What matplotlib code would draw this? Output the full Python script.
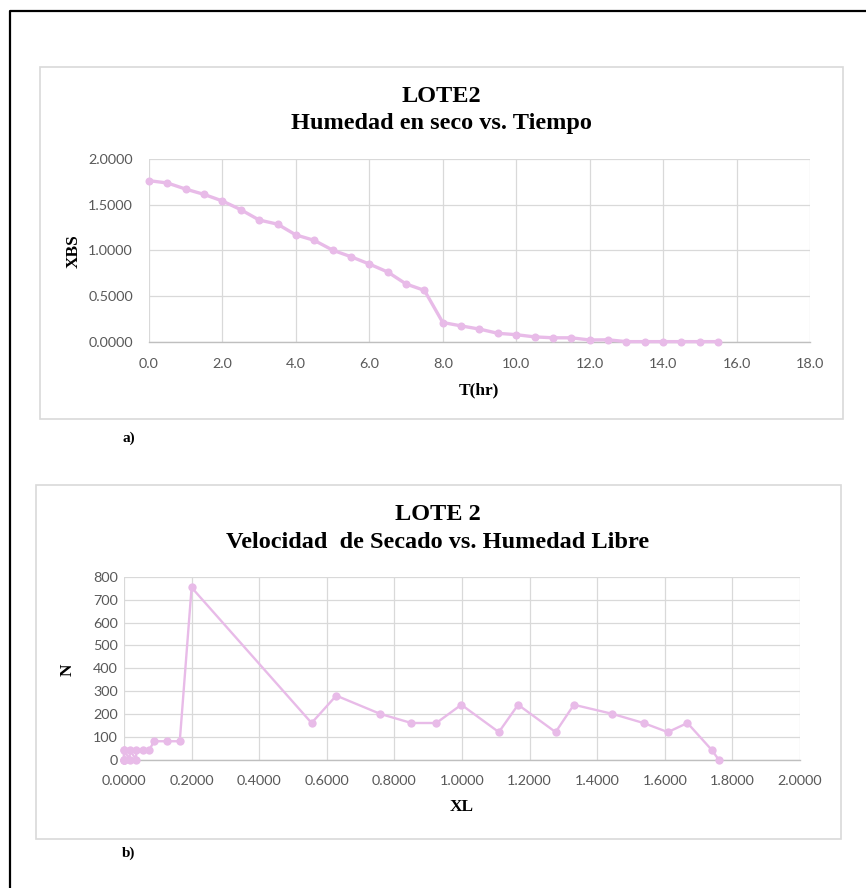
import matplotlib
matplotlib.use("Agg")
import matplotlib.pyplot as plt
from matplotlib.patches import Rectangle
from matplotlib.lines import Line2D
from matplotlib.ticker import FormatStrFormatter, MultipleLocator

# --- data -------------------------------------------------------------
# Drying curve: time (hr) and dry-basis moisture
t_hr = [0.0, 0.5, 1.0, 1.5, 2.0, 2.5, 3.0, 3.5, 4.0, 4.5, 5.0, 5.5, 6.0, 6.5,
        7.0, 7.5, 8.0, 8.5, 9.0, 9.5, 10.0, 10.5, 11.0, 11.5, 12.0, 12.5,
        13.0, 13.5, 14.0, 14.5, 15.0, 15.5]
xbs = [1.763, 1.738, 1.671, 1.613, 1.541, 1.446, 1.333, 1.288, 1.170, 1.111,
       1.004, 0.932, 0.852, 0.765, 0.634, 0.564, 0.213, 0.176, 0.141, 0.095,
       0.080, 0.056, 0.046, 0.046, 0.022, 0.024, 0.004, 0.004, 0.004, 0.004,
       0.004, 0.004]

# Drying rate vs free moisture
xl = [1.759, 1.740, 1.667, 1.609, 1.537, 1.445, 1.331, 1.277, 1.166, 1.109,
      0.998, 0.924, 0.850, 0.758, 0.628, 0.555, 0.200, 0.165, 0.127, 0.089,
      0.074, 0.055, 0.036, 0.036, 0.017, 0.017, 0.000, 0.000, 0.000, 0.000,
      0.000, 0.000]
n_rate = [0, 40, 160, 120, 160, 200, 240, 120, 240, 120, 240, 160, 160, 200,
          280, 160, 754, 80, 80, 80, 40, 40, 40, 0, 40, 0, 40, 0, 0, 0, 0, 40]

# --- figure -----------------------------------------------------------
W, H = 866, 888
fig = plt.figure(figsize=(W / 100, H / 100), dpi=100)
fig.patch.set_facecolor("white")

SERIF = "Liberation Serif"
TICKFONT = "Lato"
LINE_COLOR = "#E8BBE8"
GRID_COLOR = "#D9D9D9"
TICK_COLOR = "#595959"


def fx(x):
    return x / W


def fy(y):
    return 1 - y / H


def rect(l, t, r, b):
    return [l / W, 1 - b / H, (r - l) / W, (b - t) / H]


# page frame
fig.add_artist(Line2D([fx(10), fx(10), fx(866)], [fy(888), fy(11), fy(11)],
                      transform=fig.transFigure, color="black", lw=1.6,
                      zorder=-2))

# chart boxes
for (l, t, r, b) in [(40, 67, 843, 419), (36, 485, 841, 839)]:
    fig.add_artist(Rectangle((fx(l), fy(b)), (r - l) / W, (b - t) / H,
                             transform=fig.transFigure, facecolor="white",
                             edgecolor=GRID_COLOR, lw=1.2, zorder=-1))


def style_axes(ax, ypad, xpad):
    ax.set_facecolor("none")
    for s in ax.spines.values():
        s.set_visible(False)
    ax.spines["bottom"].set_visible(True)
    ax.spines["bottom"].set_color("#BFBFBF")
    ax.spines["bottom"].set_linewidth(1.0)
    ax.grid(True, color=GRID_COLOR, lw=0.9)
    ax.set_axisbelow(True)
    ax.tick_params(axis="both", length=0, labelsize=10.4,
                   labelcolor=TICK_COLOR)
    ax.tick_params(axis="y", pad=ypad)
    ax.tick_params(axis="x", pad=xpad)
    for lab in ax.get_xticklabels() + ax.get_yticklabels():
        lab.set_fontfamily(TICKFONT)


# --- top chart: XBS vs time --------------------------------------------
ax1 = fig.add_axes(rect(149, 159, 810, 342))
ax1.plot(t_hr, xbs, color=LINE_COLOR, lw=2.4, marker="o", ms=5.8,
         markeredgewidth=0, clip_on=False, zorder=3)
ax1.set_xlim(0, 18)
ax1.set_ylim(0, 2)
ax1.xaxis.set_major_locator(MultipleLocator(2))
ax1.yaxis.set_major_locator(MultipleLocator(0.5))
ax1.xaxis.set_major_formatter(FormatStrFormatter("%.1f"))
ax1.yaxis.set_major_formatter(FormatStrFormatter("%.4f"))
style_axes(ax1, ypad=11.5, xpad=11.5)

fig.text(fx(441), fy(96), "LOTE2", ha="center", va="center",
         family=SERIF, weight="bold", fontsize=17.5)
fig.text(fx(441), fy(124), "Humedad en seco vs. Tiempo", ha="center",
         va="center", family=SERIF, weight="bold", fontsize=17.5)
fig.text(fx(74), fy(251), "XBS", ha="center", va="center", rotation=90,
         family=SERIF, weight="bold", fontsize=12.5)
fig.text(fx(479), fy(390), "T(hr)", ha="center", va="center",
         family=SERIF, weight="bold", fontsize=12.5)
fig.text(fx(122), fy(438), "a)", ha="left", va="center",
         family=SERIF, weight="bold", fontsize=11)

# --- bottom chart: N vs XL ---------------------------------------------
ax2 = fig.add_axes(rect(124, 577, 800, 759.5))
ax2.plot(xl, n_rate, color=LINE_COLOR, lw=1.7, marker="o", ms=6,
         markeredgewidth=0, clip_on=False, zorder=3)
ax2.set_xlim(0, 2)
ax2.set_ylim(0, 800)
ax2.xaxis.set_major_locator(MultipleLocator(0.2))
ax2.yaxis.set_major_locator(MultipleLocator(100))
ax2.xaxis.set_major_formatter(FormatStrFormatter("%.4f"))
ax2.yaxis.set_major_formatter(FormatStrFormatter("%d"))
style_axes(ax2, ypad=4.3, xpad=11.5)

fig.text(fx(438), fy(514), "LOTE 2", ha="center", va="center",
         family=SERIF, weight="bold", fontsize=17.5)
fig.text(fx(438), fy(542), "Velocidad  de Secado vs. Humedad Libre",
         ha="center", va="center", family=SERIF, weight="bold", fontsize=17.5)
fig.text(fx(68), fy(670), "N", ha="center", va="center", rotation=90,
         family=SERIF, weight="bold", fontsize=12.5)
fig.text(fx(462), fy(807), "XL", ha="center", va="center",
         family=SERIF, weight="bold", fontsize=12.5)
fig.text(fx(122), fy(853), "b)", ha="left", va="center",
         family=SERIF, weight="bold", fontsize=11)

fig.savefig("out.png", dpi=100)
